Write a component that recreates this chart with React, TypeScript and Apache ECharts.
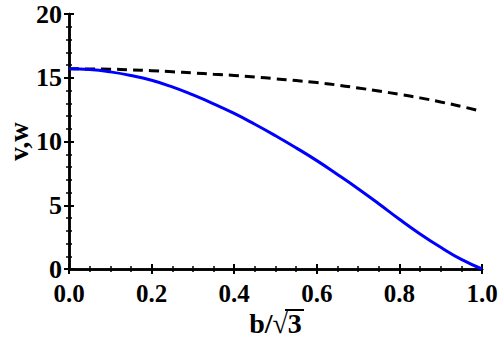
import React, { useEffect, useRef } from "react";
import * as echarts from "echarts";

const xs = [0, 0.05, 0.1, 0.15, 0.2, 0.25, 0.3, 0.35, 0.4, 0.45, 0.5, 0.55, 0.6, 0.65, 0.7, 0.75, 0.8, 0.85, 0.9, 0.95, 1.0];
const vValues = [15.7, 15.64, 15.46, 15.18, 14.8, 14.28, 13.65, 12.96, 12.2, 11.35, 10.45, 9.5, 8.5, 7.42, 6.3, 5.12, 3.9, 2.75, 1.7, 0.75, 0];
const wValues = [15.7, 15.69, 15.67, 15.62, 15.55, 15.47, 15.38, 15.28, 15.18, 15.06, 14.92, 14.78, 14.62, 14.43, 14.2, 13.96, 13.7, 13.42, 13.1, 12.75, 12.35];
const xTicks = [0, 0.2, 0.4, 0.6, 0.8, 1.0];
const yTicks = [0, 5, 10, 15, 20];
const xName = "b/√3";
const yName = "v,w";

const FONT = "'Liberation Serif', 'Times New Roman', serif";

export default function App() {
  const ref = useRef<HTMLDivElement>(null);
  useEffect(() => {
    if (!ref.current) return;
    const chart = echarts.init(ref.current, null, { renderer: "svg" });
    const axisLine = { show: true, lineStyle: { color: "#000", width: 2.5 } };
    const tick = { show: true, inside: true, length: 5, lineStyle: { color: "#000", width: 2 } };
    const minor = { show: true, splitNumber: 4, length: 3, lineStyle: { color: "#000", width: 1.5 } };
    const minorY = { show: true, splitNumber: 5, length: 3, lineStyle: { color: "#000", width: 1.5 } };
    chart.setOption({
      animation: false,
      backgroundColor: "#fff",
      textStyle: { fontFamily: FONT, fontWeight: "bold", color: "#000" },
      grid: { left: 69, right: 16, top: 14, bottom: 77, containLabel: false, outerBoundsMode: "none" },
      xAxis: [
        {
          type: "value", min: xTicks[0], max: xTicks[xTicks.length - 1], interval: 0.2,
          position: "bottom",
          axisLine, axisTick: tick, minorTick: minor, splitLine: { show: false },
          axisLabel: {
            show: true, color: "#000", fontFamily: FONT, fontWeight: "bold", fontSize: 25, lineHeight: 20,
            margin: 14, formatter: (v: number) => v.toFixed(1),
          },
          name: xName, nameLocation: "middle", nameGap: 40, nameMoveOverlap: false,
          nameTextStyle: { color: "#000", fontFamily: FONT, fontWeight: "bold", fontSize: 28 },
        },
        {
          type: "value", min: 0, max: 1, interval: 0.2, position: "top",
          axisLine, axisTick: tick, minorTick: minor, splitLine: { show: false },
          axisLabel: { show: false },
        },
      ],
      yAxis: [
        {
          type: "value", min: yTicks[0], max: yTicks[yTicks.length - 1], interval: 5,
          position: "left",
          axisLine, axisTick: tick, minorTick: minorY, splitLine: { show: false },
          axisLabel: { show: true, color: "#000", fontFamily: FONT, fontWeight: "bold", fontSize: 26, lineHeight: 20, margin: 7 },
          name: yName, nameLocation: "middle", nameGap: 37, nameRotate: 90, nameMoveOverlap: false,
          nameTextStyle: { color: "#000", fontFamily: FONT, fontWeight: "bold", fontSize: 27 },
        },
        {
          type: "value", min: 0, max: 20, interval: 5, position: "right",
          axisLine, axisTick: tick, minorTick: minorY, splitLine: { show: false },
          axisLabel: { show: false },
        },
      ],
      graphic: [
        {
          type: "line", z: 100,
          shape: { x1: 285, y1: 310, x2: 304, y2: 310 },
          style: { stroke: "#000", lineWidth: 2 },
        },
      ],
      series: [
        {
          type: "line", name: "w", smooth: true, showSymbol: false,
          data: xs.map((x, i) => [x, wValues[i]]),
          lineStyle: { color: "#000", width: 3, type: [10, 6] },
        },
        {
          type: "line", name: "v", smooth: true, showSymbol: false,
          data: xs.map((x, i) => [x, vValues[i]]),
          lineStyle: { color: "#0000ff", width: 3 },
        },
      ],
    });
    return () => chart.dispose();
  }, []);
  return <div ref={ref} style={{ width: 498, height: 346, position: "absolute", left: 0, top: 0 }} />;
}
